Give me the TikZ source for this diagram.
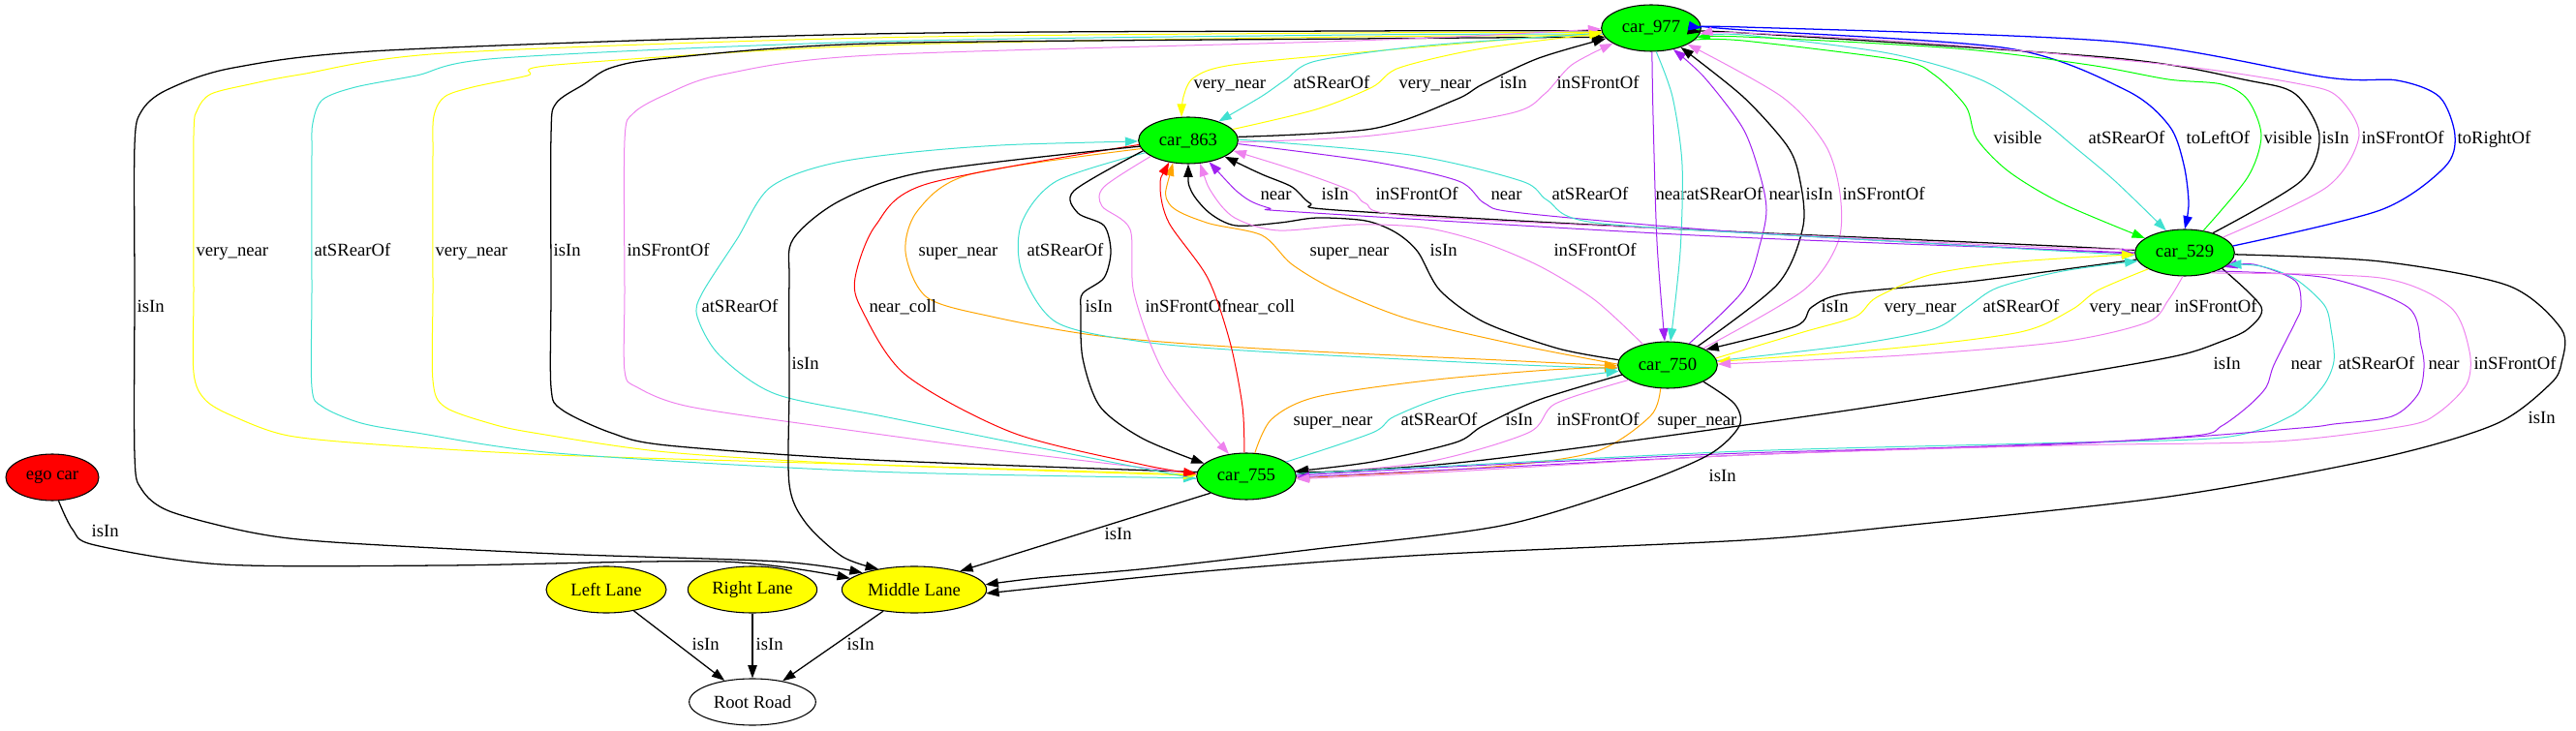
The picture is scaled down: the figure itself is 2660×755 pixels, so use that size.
\documentclass[tikz,border=0pt]{standalone}
\usepackage{fontspec}
\setmainfont{Liberation Serif}
\usetikzlibrary{shapes.geometric, arrows.meta}
\definecolor{gvyellow}{RGB}{255,255,0}
\definecolor{gvturq}{RGB}{64,224,208}
\definecolor{gvviolet}{RGB}{238,130,238}
\definecolor{gvpurple}{RGB}{160,32,240}
\definecolor{gvgreen}{RGB}{0,255,0}
\definecolor{gvblue}{RGB}{0,0,255}
\definecolor{gvorange}{RGB}{255,165,0}
\definecolor{gvred}{RGB}{255,0,0}

\begin{document}
\begin{tikzpicture}[x=0.75pt, y=-0.75pt, >={Triangle[length=10pt,width=7pt]}, font=\fontsize{14}{16}\selectfont,
    obj/.style={draw, ellipse, line width=0.8pt, minimum height=36pt, inner sep=0pt},
    car/.style={obj, fill=gvgreen, minimum width=77pt},
    lane/.style={obj, fill=gvyellow},
    ed/.style={line width=0.75pt, line join=round},
    edk/.style={line width=0.95pt, line join=round},
    lb/.style={anchor=west, inner sep=0pt, text height=10pt, text depth=3pt, text=black}]
				\useasboundingbox (0,0) rectangle (2660,755);

				\node[car] (car977) at (1705,29) {car\_977};
				\node[car] (car863) at (1227,145) {car\_863};
				\node[car] (car529) at (2256,261) {car\_529};
				\node[car] (car750) at (1722,377) {car\_750};
				\node[car] (car755) at (1287,492) {car\_755};
				\node[obj, fill=gvred, minimum width=72pt] (ego) at (54,493) {ego car};
				\node[lane, minimum width=93pt] (left) at (626,609) {Left Lane};
				\node[lane, minimum width=100pt] (right) at (777,609) {Right Lane};
				\node[lane, minimum width=112pt] (middle) at (944,609) {Middle Lane};
				\node[obj, minimum width=98pt] (root) at (777,725) {Root Road};

				% long loops on the left
				\draw[edk, ->] plot[smooth] coordinates {(car977.183) (1400,32) (900,35) (400,52) (241,70) (172,93) (146,115) (139,150) (139,300) (139,470) (146,505) (175,528) (260,550) (344,560) (574,572) (804,580) (middle.162)} node[lb] at (141,318) {isIn};
				\draw[ed, gvyellow, <-] plot[smooth] coordinates {(car977.185) (1400,34) (900,39) (459,55) (310,77) (258,87) (218,97) (204,113) (200,140) (200,300) (200,385) (212,413) (241,430) (298,450) (402,460) (574,470) (900,480) (car755.178)} node[lb] at (202,260) {very\_near};
				\draw[ed, gvturq, ->] plot[smooth] coordinates {(car977.187) (1400,36) (900,43) (517,60) (430,78) (367,90) (333,103) (323,127) (322,160) (322,300) (322,400) (333,420) (373,437) (430,447) (574,468) (900,487) (car755.182)} node[lb] at (324,260) {atSRearOf};
				\draw[ed, gvyellow, ->] plot[smooth] coordinates {(car977.189) (1400,38) (900,47) (574,67) (545,78) (488,90) (459,100) (448,120) (447,160) (447,300) (447,393) (459,420) (505,437) (551,447) (689,467) (900,480) (car755.179)} node[lb] at (449,260) {very\_near};
				\draw[edk, <-] plot[smooth] coordinates {(car977.191) (1400,40) (900,45) (689,60) (631,70) (603,87) (574,107) (569,140) (569,300) (569,400) (580,423) (631,447) (689,460) (900,475) (car755.175)} node[lb] at (571,260) {isIn};
				\draw[ed, gvviolet, <-] plot[smooth] coordinates {(car977.181) (1400,42) (900,57) (746,77) (689,97) (654,117) (645,145) (645,300) (645,383) (658,400) (712,420) (868,443) (1046,467) (car755.177)} node[lb] at (647,260) {inSFrontOf};

				% car_977 and car_863
				\draw[ed, gvyellow, ->] plot[smooth] coordinates {(car977.184) (1417,53) (1273,67) (1233,80) (1222,100) (car863.106)} node[lb] at (1232,87) {very\_near};
				\draw[ed, gvturq, ->] plot[smooth] coordinates {(car977.186) (1474,47) (1359,63) (1328,82) (1302,100) (car863.32)} node[lb] at (1335,87) {atSRearOf};
				\draw[ed, gvyellow, ->] plot[smooth] coordinates {(car863.14) (1359,113) (1417,90) (1445,70) (1531,50) (car977.186)} node[lb] at (1444,87) {very\_near};
				\draw[edk, ->] plot[smooth] coordinates {(car863.4) (1417,133) (1503,103) (1531,87) (1589,60) (car977.193)} node[lb] at (1548,87) {isIn};
				\draw[ed, gvviolet, ->] plot[smooth] coordinates {(car863.-2) (1417,140) (1560,117) (1595,97) (1623,67) (car977.202)} node[lb] at (1607,87) {inSFrontOf};

				% car_977 and car_750
				\draw[ed, gvpurple, ->] plot[smooth] coordinates {(car977.272) (1707,120) (1711,250) (car750.97)} node[lb] at (1709,202) {near};
				\draw[ed, gvturq, ->] plot[smooth] coordinates {(car977.282) (1727,100) (1737,170) (1735,260) (car750.83)} node[lb] at (1741,202) {atSRearOf};
				\draw[ed, gvpurple, ->] plot[smooth] coordinates {(car750.45) (1800,300) (1818,250) (1824,217) (1818,183) (1800,133) (1760,80) (car977.316)} node[lb] at (1826,202) {near};
				\draw[edk, ->] plot[smooth] coordinates {(car750.32) (1836,293) (1862,233) (1858,183) (1845,150) (1800,100) (car977.327)} node[lb] at (1864,202) {isIn};
				\draw[ed, gvviolet, ->] plot[smooth] coordinates {(car750.25) (1862,300) (1898,250) (1900,200) (1885,150) (1840,100) (car977.336)} node[lb] at (1902,202) {inSFrontOf};

				% car_977 and car_529
				\draw[ed, gvgreen, ->] plot[smooth] coordinates {(car977.345) (1800,42) (1960,62) (1997,77) (2030,110) (2041,143) (2074,177) (2129,210) (car529.160)} node[lb] at (2058,144) {visible};
				\draw[ed, gvturq, ->] plot[smooth] coordinates {(car977.350) (1800,36) (1950,55) (2047,83) (2107,123) (2140,150) (2184,187) (car529.130)} node[lb] at (2156,144) {atSRearOf};
				\draw[edk, gvblue, ->] plot[smooth] coordinates {(car977.2) (1800,31) (2074,50) (2195,93) (2240,130) (2255,170) (2260,210) (car529.90)} node[lb] at (2257,144) {toLeftOf};
				\draw[ed, gvgreen, ->] plot[smooth] coordinates {(car529.50) (2321,183) (2335,140) (2321,103) (2294,87) (2239,82) (2157,67) (2019,50) (1800,38) (car977.348)} node[lb] at (2337,144) {visible};
				\draw[edk, ->] plot[smooth] coordinates {(car529.35) (2376,187) (2395,140) (2370,97) (2321,83) (2184,60) (1800,34) (car977.355)} node[lb] at (2397,144) {isIn};
				\draw[ed, gvviolet, ->] plot[smooth] coordinates {(car529.22) (2403,193) (2436,140) (2414,100) (2376,87) (2250,68) (2000,45) (1800,34) (car977.353)} node[lb] at (2438,144) {inSFrontOf};
				\draw[edk, gvblue, ->] plot[smooth] coordinates {(car529.8) (2458,217) (2524,173) (2535,140) (2519,100) (2475,83) (2403,80) (2184,43) (1800,28) (car977.0)} node[lb] at (2537,144) {toRightOf};

				% car_863 and car_529
				\draw[ed, gvpurple, <-] plot[smooth] coordinates {(car863.314) (1284,203) (1311,215) (1341,219) (1750,243) (2100,257) (car529.180)} node[lb] at (1301,202) {near};
				\draw[edk, <-] plot[smooth] coordinates {(car863.336) (1303,180) (1334,193) (1353,210) (1380,217) (1700,235) (2100,253) (car529.177)} node[lb] at (1364,202) {isIn};
				\draw[ed, gvviolet, <-] plot[smooth] coordinates {(car863.347) (1341,177) (1395,197) (1410,210) (1456,223) (1800,240) (2100,255) (car529.176)} node[lb] at (1420,202) {inSFrontOf};
				\draw[ed, gvpurple, ->] plot[smooth] coordinates {(car863.356) (1418,167) (1506,187) (1533,210) (1571,220) (1800,240) (2100,257) (car529.181)} node[lb] at (1539,202) {near};
				\draw[ed, gvturq, ->] plot[smooth] coordinates {(car863.1) (1456,160) (1571,187) (1598,207) (1647,230) (1900,246) (car529.183)} node[lb] at (1602,202) {atSRearOf};

				% car_863 and car_750
				\draw[ed, gvorange, <-] plot[smooth] coordinates {(car863.236) (1207,210) (1246,230) (1303,243) (1334,273) (1380,300) (1456,330) (1571,357) (car750.179)} node[lb] at (1352,260) {super\_near};
				\draw[edk, <-] plot[smooth] coordinates {(car863.270) (1230,197) (1249,220) (1276,233) (1322,230) (1360,225) (1410,228) (1441,240) (1464,260) (1487,300) (1533,333) (1609,360) (car750.174)} node[lb] at (1476,260) {isIn};
				\draw[ed, gvviolet, <-] plot[smooth] coordinates {(car863.297) (1252,200) (1275,225) (1320,238) (1400,232) (1470,235) (1530,250) (1590,275) (1647,310) (car750.140)} node[lb] at (1604,260) {inSFrontOf};
				\draw[ed, gvorange, ->] plot[smooth] coordinates {(car863.190) (1002,180) (948,217) (935,260) (957,307) (1024,327) (1136,347) (1300,360) (1550,372) (car750.181)} node[lb] at (948,260) {super\_near};
				\draw[ed, gvturq, ->] plot[smooth] coordinates {(car863.196) (1091,187) (1055,230) (1055,280) (1091,333) (1180,353) (1300,363) (1550,376) (car750.184)} node[lb] at (1060,260) {atSRearOf};

				% car_863 and car_755
				\draw[ed, gvred, ->] plot[smooth] coordinates {(car863.185) (957,190) (904,233) (883,287) (890,320) (935,387) (1046,447) (1180,480) (car755.177)} node[lb] at (897,318) {near\_coll};
				\draw[edk, ->] plot[smooth] coordinates {(car863.193) (1109,197) (1113,220) (1140,233) (1147,260) (1140,287) (1118,303) (1116,320) (1118,370) (1136,420) (1180,453) (car755.163)} node[lb] at (1120,318) {isIn};
				\draw[ed, gvviolet, ->] plot[smooth] coordinates {(car863.203) (1140,193) (1138,213) (1167,237) (1171,303) (1203,387) (car755.128)} node[lb] at (1182,318) {inSFrontOf};
				\draw[ed, gvred, <-] plot[smooth] coordinates {(car863.229) (1198,193) (1207,230) (1247,287) (1270,353) (1283,420) (car755.95)} node[lb] at (1267,318) {near\_coll};
				\draw[ed, gvturq, <-] plot[smooth] coordinates {(car863.181) (1002,152) (868,167) (796,193) (761,247) (725,303) (720,327) (743,367) (801,407) (912,430) (1046,457) (car755.183)} node[lb] at (724,318) {atSRearOf};
				\draw[edk, ->] plot[smooth] coordinates {(car863.187) (957,177) (868,207) (819,247) (815,290) (815,400) (815,500) (832,540) (870,575) (middle.150)} node[lb] at (817,377) {isIn};

				% car_750 and car_755
				\draw[ed, gvorange, ->] plot[smooth] coordinates {(car755.70) (1313,433) (1359,410) (1474,393) (1600,382) (car750.183)} node[lb] at (1335,435) {super\_near};
				\draw[ed, gvturq, ->] plot[smooth] coordinates {(car755.20) (1417,447) (1440,430) (1503,407) (1620,390) (car750.187)} node[lb] at (1446,435) {atSRearOf};
				\draw[edk, ->] plot[smooth] coordinates {(car750.192) (1589,413) (1531,440) (1503,457) (1417,477) (car755.6)} node[lb] at (1554,435) {isIn};
				\draw[ed, gvviolet, ->] plot[smooth] coordinates {(car750.201) (1606,417) (1578,447) (1474,477) (car755.2)} node[lb] at (1607,435) {inSFrontOf};
				\draw[ed, gvorange, ->] plot[smooth] coordinates {(car750.253) (1704,430) (1646,467) (1531,483) (car755.358)} node[lb] at (1711,435) {super\_near};

				% car_529 and car_750
				\draw[edk, ->] plot[smooth] coordinates {(car529.188) (2041,290) (1907,303) (1871,317) (1854,337) (car750.22)} node[lb] at (1880,318) {isIn};
				\draw[ed, gvyellow, ->] plot[smooth] coordinates {(car750.8) (1862,343) (1916,327) (1938,307) (1996,283) (2086,270) (car529.182)} node[lb] at (1945,318) {very\_near};
				\draw[ed, gvturq, ->] plot[smooth] coordinates {(car750.5) (1907,357) (1996,340) (2032,317) (2063,297) (2130,280) (car529.190)} node[lb] at (2047,318) {atSRearOf};
				\draw[ed, gvyellow, ->] plot[smooth] coordinates {(car529.204) (2166,300) (2139,320) (2086,343) (1952,360) (car750.4)} node[lb] at (2157,318) {very\_near};
				\draw[ed, gvviolet, ->] plot[smooth] coordinates {(car529.265) (2239,310) (2217,333) (2129,353) (1965,367) (car750.1)} node[lb] at (2245,318) {inSFrontOf};

				% car_529 and car_755
				\draw[edk, ->] plot[smooth] coordinates {(car529.337) (2335,317) (2321,340) (2293,353) (2250,367) (2150,385) (1900,425) (1550,473) (1400,486) (car755.5)} node[lb] at (2285,377) {isIn};
				\draw[ed, gvpurple, ->] plot[smooth] coordinates {(car755.1) (1500,482) (1800,468) (2100,460) (2266,450) (2294,440) (2321,420) (2340,400) (2348,377) (2370,333) (2376,317) (2370,290) (2327,273) (car529.340)} node[lb] at (2365,377) {near};
				\draw[ed, gvturq, ->] plot[smooth] coordinates {(car755.3) (1500,481) (1800,466) (2100,458) (2294,452) (2365,430) (2398,400) (2410,373) (2407,340) (2400,315) (2370,288) (2335,275) (car529.345)} node[lb] at (2414,377) {atSRearOf};
				\draw[ed, gvpurple, ->] plot[smooth] coordinates {(car529.330) (2403,287) (2486,317) (2500,357) (2503,380) (2497,407) (2470,430) (2410,438) (2376,442) (2200,455) (1800,470) (1500,485) (car755.359)} node[lb] at (2507,377) {near};
				\draw[ed, gvviolet, ->] plot[smooth] coordinates {(car529.322) (2458,287) (2530,317) (2550,363) (2547,397) (2517,427) (2483,440) (2349,456) (2129,460) (1800,470) (1500,487) (car755.357)} node[lb] at (2554,377) {inSFrontOf};

				% everything into the lanes
				\draw[edk, ->] plot[smooth] coordinates {(car529.358) (2458,270) (2590,295) (2645,340) (2645,375) (2633,397) (2577,438) (2458,473) (2239,513) (1965,543) (1800,558) (1474,573) (1244,590) (middle.357)} node[lb] at (2610,433) {isIn};
				\draw[edk, ->] plot[smooth] coordinates {(car750.335) (1791,417) (1796,440) (1764,470) (1684,503) (1550,543) (1359,567) (1187,587) (1072,597) (middle.4)} node[lb] at (1764,493) {isIn};
				\draw[edk, ->] (car755.205) -- (middle.22) node[lb] at (1140,553) {isIn};
				\draw[edk, ->] plot[smooth] coordinates {(ego.285) (75,547) (98,563) (230,583) (459,584) (746,580) (middle.170)} node[lb] at (94,550) {isIn};
				\draw[edk, ->] (left) -- (root) node[lb] at (714,667) {isIn};
				\draw[edk, ->] (right) -- (root) node[lb] at (780,667) {isIn};
				\draw[edk, ->] (middle) -- (root) node[lb] at (874,667) {isIn};
			\end{tikzpicture}
\end{document}
